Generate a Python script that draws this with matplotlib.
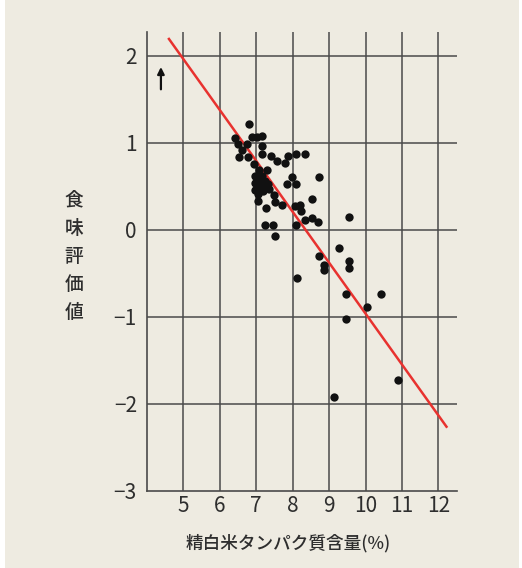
import matplotlib
matplotlib.use("Agg")
import matplotlib.pyplot as plt
import numpy as np
from matplotlib.patches import Rectangle

plt.rcParams['font.family'] = ['Noto Sans CJK JP', 'DejaVu Sans']

# ---- data ----
protein = [6.80, 6.42, 6.88, 7.02, 7.16, 6.50, 6.74, 7.16, 6.62, 7.16,
           6.53, 6.78, 7.42, 7.58, 7.78, 7.88, 8.08, 8.33, 6.94, 7.08,
           7.30, 6.98, 7.15, 7.99, 8.73, 6.97, 7.05, 7.12, 7.20, 7.32,
           7.86, 8.10, 6.98, 7.10, 7.20, 7.36, 7.05, 7.50, 7.04, 7.51,
           7.72, 7.28, 8.53, 8.06, 8.21, 8.22, 8.35, 8.53, 8.69, 8.08,
           7.24, 7.46, 7.52, 9.54, 9.27, 8.73, 8.86, 8.86, 9.56, 9.56,
           8.13, 9.47, 10.43, 10.04, 9.47, 10.88, 9.13, 7.02, 7.08, 7.25]
score = [1.21, 1.05, 1.06, 1.07, 1.08, 0.98, 0.98, 0.96, 0.91, 0.87,
         0.83, 0.84, 0.85, 0.79, 0.77, 0.85, 0.87, 0.87, 0.75, 0.69,
         0.69, 0.62, 0.62, 0.60, 0.60, 0.54, 0.51, 0.55, 0.50, 0.52,
         0.52, 0.52, 0.46, 0.48, 0.44, 0.47, 0.41, 0.40, 0.33, 0.32,
         0.28, 0.25, 0.35, 0.27, 0.28, 0.21, 0.11, 0.14, 0.09, 0.05,
         0.05, 0.05, -0.07, 0.15, -0.21, -0.30, -0.40, -0.46, -0.36, -0.44,
         -0.56, -0.74, -0.74, -0.89, -1.03, -1.72, -1.92, 0.58, 0.45, 0.56]
fit_x = [4.61, 12.22]
fit_slope = -0.585
fit_intercept = 4.887
x_ticks = [5, 6, 7, 8, 9, 10, 11, 12]
y_ticks = [-3, -2, -1, 0, 1, 2]
x_label = "精白米タンパク質含量(%)"
y_label_chars = ["食", "味", "評", "価", "値"]

W, H = 522, 568
bg = "#EEEBE1"
grid_c = "#4a4a4a"
txt_c = "#2e2e2e"

fig = plt.figure(figsize=(W / 100, H / 100), dpi=100)
fig.patch.set_facecolor("white")
fig.patches.append(Rectangle((5 / W, 0), (514 / W), 1, transform=fig.transFigure,
                             facecolor=bg, edgecolor="none", zorder=-10))

ax = fig.add_axes([146.7 / W, 1 - 491 / H, (456.7 - 146.7) / W, (491 - 32) / H])
ax.set_facecolor(bg)
ax.set_xlim(4, 12.5)
ax.set_ylim(-3, 2.27)

for s in ["top", "right"]:
    ax.spines[s].set_visible(False)
for s in ["left", "bottom"]:
    ax.spines[s].set_color(grid_c)
    ax.spines[s].set_linewidth(1.2)

for xv in x_ticks:
    ax.axvline(xv, color=grid_c, lw=1.1, zorder=1)
for yv in y_ticks[1:]:
    ax.axhline(yv, color=grid_c, lw=1.1, zorder=1)

ax.set_xticks(x_ticks)
ax.set_xticklabels([str(v) for v in x_ticks])
ax.set_yticks(y_ticks)
ax.set_yticklabels([str(v).replace("-", "\u2212") for v in y_ticks])
ax.tick_params(length=0, labelsize=15, colors=txt_c, pad=3)
ax.tick_params(axis="y", pad=7)

fx = np.array(fit_x)
ax.plot(fx, fit_intercept + fit_slope * fx, color="#E8322F", lw=1.8, zorder=3,
        clip_on=False)
ax.scatter(protein, score, s=36, color="#111111", zorder=4, linewidths=0)

ax.annotate("", xy=(4.39, 1.9), xytext=(4.39, 1.58),
            arrowprops=dict(arrowstyle="-|>", color="#111111", lw=1.6,
                            mutation_scale=10))

fig.text(288 / W, 1 - 543 / H, x_label, ha="center", va="center",
         fontsize=12.7, color=txt_c, fontweight="medium")
for i, ch in enumerate(y_label_chars):
    fig.text(74 / W, 1 - (200 + 28 * i) / H, ch, ha="center", va="center",
             fontsize=13.5, color=txt_c, fontweight="medium")

fig.savefig("out.png", dpi=100, facecolor=fig.get_facecolor())
